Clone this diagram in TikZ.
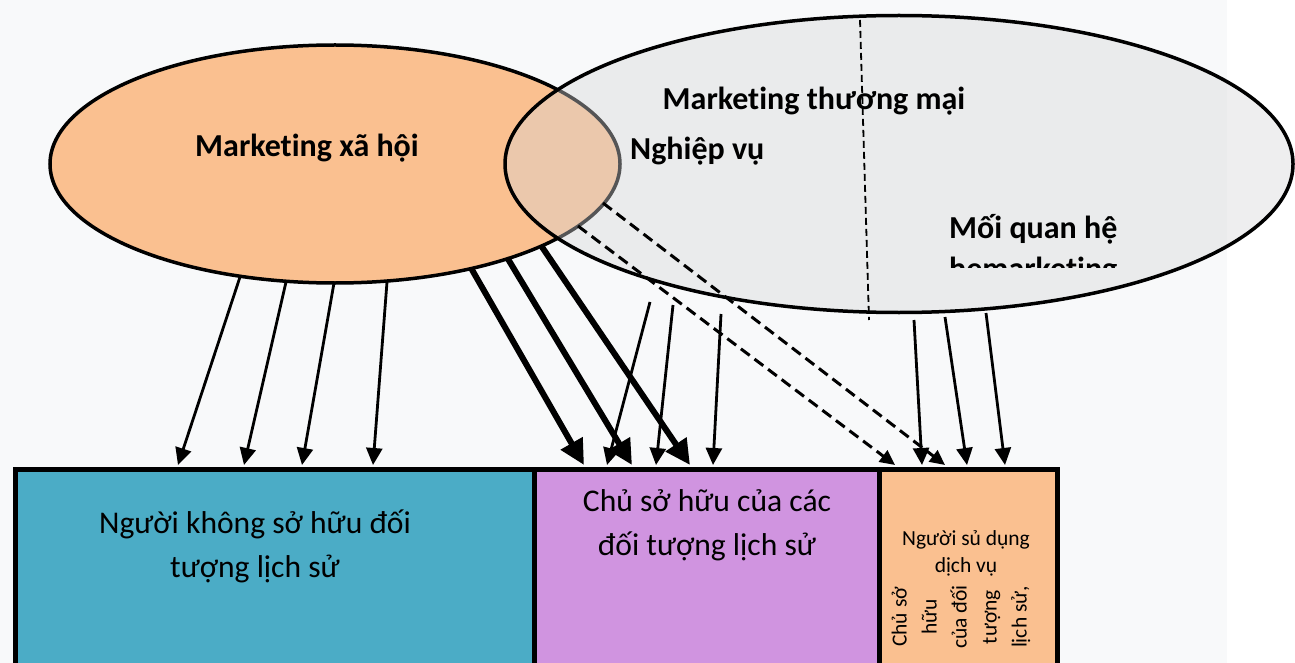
\documentclass[tikz,border=0pt]{standalone}
\usepackage{fontspec}
\setmainfont{Carlito}[Ligatures=NoCommon]
\usetikzlibrary{shapes.geometric,arrows.meta}
\definecolor{pagebg}{HTML}{F8F9FA}
\definecolor{socfill}{HTML}{FAC090}
\definecolor{comfill}{RGB}{214,214,216}
\definecolor{tealbox}{HTML}{4BACC6}
\definecolor{lilacbox}{HTML}{D094E0}
\definecolor{peachbox}{HTML}{FAC090}
\begin{document}
\begin{tikzpicture}[x=1pt,y=-1pt,
  oval/.style={ellipse,draw=black,line width=3.5pt,inner sep=0pt},
  group/.style={rectangle,draw=black,line width=5pt,inner sep=0pt,anchor=north west,minimum height=240pt},
  title/.style={font=\bfseries\fontsize{32}{41}\selectfont,inner sep=0pt},
  boxtext/.style={font=\fontsize{31.6}{44}\selectfont,align=center,inner sep=0pt,anchor=base},
  smalltext/.style={font=\fontsize{21.5}{27}\selectfont,align=center,inner sep=0pt},
  thinarrow/.style={line width=2.8pt,-{Triangle[length=17pt,width=16pt]}},
  thickarrow/.style={line width=6pt,-{Triangle[length=25pt,width=24pt]}},
  dasharrow/.style={line width=3pt,dash pattern=on 11pt off 6pt,-{Triangle[length=15pt,width=14pt]}},
  divider/.style={line width=1.8pt,dash pattern=on 7pt off 4pt}]
\clip (0,0) rectangle (1295,663);
\useasboundingbox (0,0) rectangle (1295,663);
\fill[pagebg] (0,0) rectangle (1227,663);
\fill[white] (1227,0) rectangle (1295,663);

% the two marketing fields
\node[oval,fill=socfill,minimum width=570pt,minimum height=238pt] (social) at (335,164) {};
\node[oval,fill=comfill,fill opacity=0.4,draw opacity=1,minimum width=788pt,minimum height=297pt] (commerce) at (899,164) {};

\draw[divider] (860,20) coordinate (dtop) -- (869,320) coordinate (dbot);

\node[title,anchor=base] (soclabel) at (307,157) {Marketing xã hội};
\node[title,anchor=base] (comlabel) at (814,110) {Marketing thương mại};
\node[title,anchor=base west] (oplabel) at (630,160) {Nghiệp vụ};
\begin{scope}
  \clip (900,190) rectangle (1200,267.5);
  \node[title,anchor=base west,align=left] (rellabel) at (949,279) {Mối quan hệ\\hemarketing};
\end{scope}

% audience groups
\node[group,fill=tealbox,minimum width=519.5pt] (nonown) at (12.5,466.5) {};
\node[group,fill=lilacbox,minimum width=345pt] (owner) at (532,466.5) {};
\node[group,fill=peachbox,minimum width=178pt] (user) at (877,466.5) {};

\node[boxtext] (nonowntxt) at (255,577) {Người không sở hữu đối\\tượng lịch sử};
\node[boxtext] (ownertxt) at (707,555) {Chủ sở hữu của các\\đối tượng lịch sử};
\node[smalltext,anchor=base] (usertxt) at (966,572) {Người sủ dụng\\dịch vụ};
\node[smalltext,rotate=90,font=\fontsize{21.5}{30}\selectfont] (usertxtv) at (961,617) {Chủ sở\\hữu\\của đối\\tượng\\lịch sử,};

% connector end points
\coordinate (a1) at (240,277); \coordinate (b1) at (178,465);
\coordinate (a2) at (286,282); \coordinate (b2) at (244,465);
\coordinate (a3) at (334,283); \coordinate (b3) at (302,465);
\coordinate (a4) at (387,282); \coordinate (b4) at (373,465);

\coordinate (c1) at (471,268); \coordinate (d1) at (584,465);
\coordinate (c2) at (508,259); \coordinate (d2) at (632,465);
\coordinate (c3) at (542,247); \coordinate (d3) at (690,465);

\coordinate (e1) at (650,302); \coordinate (f1) at (607,465);
\coordinate (e2) at (673,305); \coordinate (f2) at (656,465);
\coordinate (e3) at (721,314); \coordinate (f3) at (713,465);

\coordinate (g1) at (578,226); \coordinate (h1) at (895,465);
\coordinate (g2) at (603,203); \coordinate (h2) at (945,465);

\coordinate (k1) at (914,320); \coordinate (m1) at (922,465);
\coordinate (k2) at (945,317); \coordinate (m2) at (967,465);
\coordinate (k3) at (986,313); \coordinate (m3) at (1005,465);

\foreach \s/\t in {a1/b1,a2/b2,a3/b3,a4/b4,e1/f1,e2/f2,e3/f3,k1/m1,k2/m2,k3/m3}
  \draw[thinarrow] (\s) -- (\t);
\foreach \s/\t in {c1/d1,c2/d2,c3/d3}
  \draw[thickarrow] (\s) -- (\t);
\foreach \s/\t in {g1/h1,g2/h2}
  \draw[dasharrow] (\s) -- (\t);
\end{tikzpicture}
\end{document}
